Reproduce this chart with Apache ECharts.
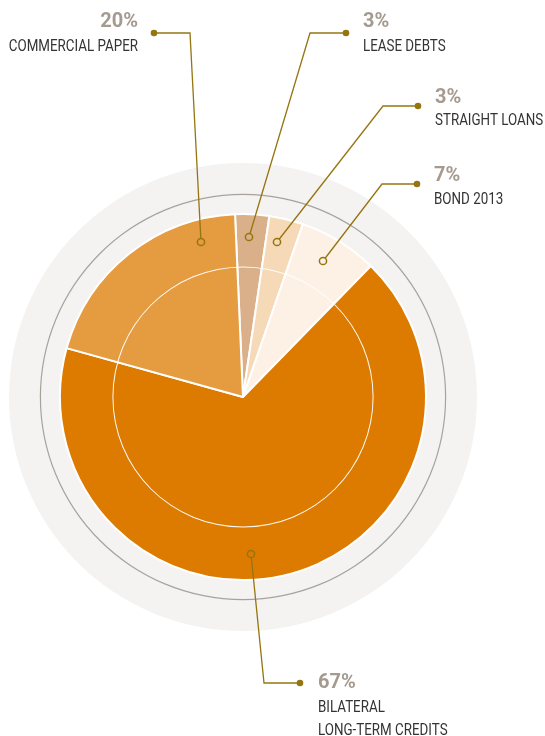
<!DOCTYPE html>
<html>
<head>
<meta charset="utf-8">
<title>Financing structure</title>
<script src="https://cdn.jsdelivr.net/npm/echarts@6/dist/echarts.min.js"></script>
<style>
  html, body { margin: 0; padding: 0; background: #ffffff; }
  #chart { width: 545px; height: 736px; }
</style>
</head>
<body>
<div id="chart"></div>
<script>
// Financing sources, clockwise from the top
const categories = ['LEASE DEBTS', 'STRAIGHT LOANS', 'BOND 2013', 'BILATERAL\nLONG-TERM CREDITS', 'COMMERCIAL PAPER'];
const shares = [3, 3, 7, 67, 20];
const sliceColors = ['#d9b089', '#f6d9b7', '#fdf1e5', '#dc7b00', '#e59b3f'];

// Geometry of the disc and of the callouts
const CENTER = [243, 397];
const LEADER_COLOR = '#957510';
const leaders = [
  { anchor: [249, 237], elbow: [310, 33],  end: [346, 33],  x: 363, pctY: 22,  nameY: [47],       align: 'left' },
  { anchor: [277, 242], elbow: [383, 106], end: [418, 106], x: 435, pctY: 98,  nameY: [121],      align: 'left' },
  { anchor: [323, 261], elbow: [382, 184], end: [417, 184], x: 434, pctY: 176, nameY: [200],      align: 'left' },
  { anchor: [251, 554], elbow: [264, 683], end: [300, 683], x: 318, pctY: 683, nameY: [708, 731], align: 'left' },
  { anchor: [201, 242], elbow: [190, 33],  end: [154, 33],  x: 138, pctY: 22,  nameY: [47],       align: 'right' }
];

const NAME_FONT = "16px Roboto, 'Liberation Sans', sans-serif";
const PCT_FONT = "bold 20px Roboto, 'Liberation Sans', sans-serif";
const NAME_SQUEEZE = 0.835;

const chart = echarts.init(document.getElementById('chart'), null, { renderer: 'canvas' });

function ring(inner, outer, color, z) {
  return {
    type: 'pie', silent: true, z: z, center: CENTER, radius: [inner, outer],
    label: { show: false }, labelLine: { show: false },
    emphasis: { disabled: true }, animation: false,
    data: [{ value: 1, itemStyle: { color: color } }]
  };
}

// Callouts: leader line, hollow anchor, filled end dot, share and name
const callouts = [];
leaders.forEach(function (L, i) {
  callouts.push({
    type: 'polyline', z: 100,
    shape: { points: [L.anchor, L.elbow, L.end] },
    style: { stroke: LEADER_COLOR, lineWidth: 1.3, fill: null }
  });
  callouts.push({
    type: 'circle', z: 101, shape: { cx: L.anchor[0], cy: L.anchor[1], r: 3.6 },
    style: { fill: sliceColors[i], stroke: LEADER_COLOR, lineWidth: 1.5 }
  });
  callouts.push({
    type: 'circle', z: 101, shape: { cx: L.end[0], cy: L.end[1], r: 3.3 },
    style: { fill: LEADER_COLOR }
  });
  callouts.push({
    type: 'text', z: 101, x: L.x, y: L.pctY,
    style: { text: shares[i] + '%', font: PCT_FONT, fill: '#a59a8f', align: L.align, verticalAlign: 'middle' }
  });
  categories[i].split('\n').forEach(function (line, k) {
    callouts.push({
      type: 'text', z: 101, x: L.x, y: L.nameY[k], scaleX: NAME_SQUEEZE,
      style: { text: line, font: NAME_FONT, fill: '#333333', align: L.align, verticalAlign: 'middle' }
    });
  });
});

chart.setOption({
  animation: false,
  backgroundColor: '#ffffff',
  graphic: callouts,
  series: [
    ring(0, 234, '#f4f3f2', 1),
    ring(202, 203.2, '#a9a29c', 2),
    {
      type: 'pie',
      z: 3,
      center: CENTER,
      radius: [0, 183],
      startAngle: 92.5,
      clockwise: true,
      silent: true,
      emphasis: { disabled: true },
      itemStyle: { borderColor: '#ffffff', borderWidth: 2 },
      label: { show: false },
      labelLine: { show: false },
      data: categories.map(function (name, i) {
        return { name: name, value: shares[i], itemStyle: { color: sliceColors[i] } };
      })
    },
    ring(129.6, 130.6, 'rgba(255,255,255,0.95)', 4)
  ]
});
</script>
</body>
</html>
